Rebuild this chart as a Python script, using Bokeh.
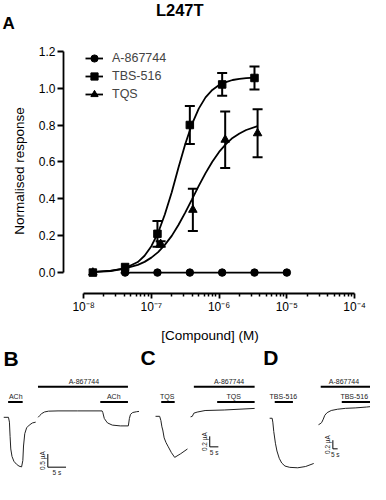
import math
from bokeh.plotting import figure
from bokeh.models import (ColumnDataSource, Range1d, Whisker, TeeHead, Legend, LegendItem,
                          FixedTicker, CustomJSTickFormatter, PrintfTickFormatter)
from bokeh.layouts import column, row
from bokeh.embed import file_html
from bokeh.resources import INLINE
from bokeh.core.properties import value

S = 0.958
FONT = "Liberation Sans"

# ---------------- panel A data ----------------
title_text = "L247T"
a867744_conc = [4.1e-8, 1.23e-7, 3.7e-7, 1.11e-6, 3.33e-6, 1.0e-5]
a867744_resp = [0.0, 0.0, 0.0, 0.0, 0.0, 0.0]

tbs_conc = [1.37e-8, 4.1e-8, 1.23e-7, 3.7e-7, 1.11e-6, 3.33e-6]
tbs_resp = [0.0, 0.03, 0.21, 0.80, 1.02, 1.055]
tbs_err = [0.0, 0.0, 0.07, 0.103, 0.062, 0.062]

tqs_conc = [1.37e-8, 4.1e-8, 1.37e-7, 4.1e-7, 1.23e-6, 3.7e-6]
tqs_resp = [0.0, 0.01, 0.155, 0.34, 0.72, 0.755]
tqs_err = [0.0, 0.0, 0.015, 0.115, 0.153, 0.13]

tbs_fit_conc = [1.37e-8, 2.51e-8, 3.98e-8, 6.31e-8, 7.94e-8, 1.0e-7, 1.26e-7, 1.58e-7, 2.0e-7,
                2.51e-7, 3.16e-7, 3.98e-7, 5.01e-7, 6.31e-7, 7.94e-7, 1.0e-6, 1.26e-6, 1.58e-6,
                2.0e-6, 2.51e-6, 3.39e-6]
tbs_fit_resp = [0.002, 0.008, 0.022, 0.057, 0.091, 0.143, 0.216, 0.315, 0.436, 0.568, 0.696,
                0.805, 0.889, 0.950, 0.990, 1.017, 1.033, 1.044, 1.050, 1.054, 1.057]
tqs_fit_conc = [1.37e-8, 2.51e-8, 3.98e-8, 6.31e-8, 7.94e-8, 1.0e-7, 1.26e-7, 1.58e-7, 2.0e-7,
                2.51e-7, 3.16e-7, 3.98e-7, 5.01e-7, 6.31e-7, 7.94e-7, 1.0e-6, 1.26e-6, 1.58e-6,
                2.0e-6, 2.51e-6, 3.7e-6]
tqs_fit_resp = [0.004, 0.010, 0.021, 0.042, 0.058, 0.081, 0.111, 0.150, 0.199, 0.258, 0.325,
                0.397, 0.470, 0.539, 0.601, 0.654, 0.696, 0.730, 0.754, 0.773, 0.794]

x_tick_exponents = [-8, -7, -6, -5, -4]
x_tick_labels = ["10⁻⁸", "10⁻⁷", "10⁻⁶", "10⁻⁵", "10⁻⁴"]
y_ticks = [0.0, 0.2, 0.4, 0.6, 0.8, 1.0, 1.2]

series_names = ["A-867744", "TBS-516", "TQS"]

# ---------------- panels B, C, D data (time s, current uA) ----------------
b_t1 = [0.1, 1.4, 1.66, 1.84, 2.03, 2.37, 2.89, 3.6, 4.29, 5.0, 5.34, 5.53, 5.87, 6.39, 7.1, 7.97, 8.87]
b_i1 = [0.0, 0.0, -0.18, -0.71, -1.18, -1.46, -1.64, -1.75, -1.82, -1.85, -1.61, -1.07, -0.61,
        -0.39, -0.29, -0.21, -0.18]
b_t2 = [9.55, 10.0, 10.53, 11.3, 12.4, 15.0, 20.3, 27.1, 27.3, 27.7, 28.2, 28.6, 29.9, 32.1,
        34.3, 34.6, 34.9, 35.5, 36.6, 37.8]
b_i2 = [0.0, 0.07, 0.14, 0.2, 0.23, 0.24, 0.24, 0.24, 0.18, -0.04, -0.14, -0.21, -0.29, -0.32,
        -0.32, -0.04, 0.11, 0.18, 0.21, 0.23]
b_bar_names = ["A-867744", "ACh", "ACh"]
b_bar_start = [9.5, 1.3, 26.6]
b_bar_end = [34.2, 5.3, 34.2]
b_bar_level = [1.14, 0.57, 0.57]
b_label_x = [22.1, 3.4, 30.3]

c_t1 = [0.0, 2.4, 3.1, 3.7, 4.2, 5.0, 6.1, 7.4, 9.2, 11.1, 14.6, 18.5]
c_i1 = [0.0, 0.0, -0.08, -0.2, -0.26, -0.41, -0.5, -0.58, -0.69, -0.78, -0.71, -0.62]
c_t2 = [20.3, 21.3, 22.2, 24.1, 28.7, 39.8, 57.4]
c_i2 = [-0.01, 0.0, 0.06, 0.08, 0.11, 0.12, 0.15]
c_bar_names = ["A-867744", "TQS", "TQS"]
c_bar_start = [22.2, 3.3, 35.7]
c_bar_end = [57.4, 11.1, 57.4]
c_bar_level = [0.56, 0.27, 0.27]
c_label_x = [42.6, 6.8, 45.3]

d_t1 = [0.0, 2.6, 3.3, 4.3, 6.0, 7.6, 10.0, 12.6, 16.0, 21.0, 29.3, 37.6, 46.0]
d_i1 = [0.0, 0.0, -0.09, -0.31, -0.58, -0.76, -0.93, -1.04, -1.11, -1.14, -1.15, -1.12, -1.05]
d_t2 = [51.0, 52.6, 54.3, 56.0, 57.6, 60.0, 64.3, 71.0, 79.3, 89.3, 101.0, 105.3]
d_i2 = [-0.15, -0.13, -0.10, -0.02, 0.07, 0.13, 0.18, 0.21, 0.23, 0.24, 0.26, 0.27]
d_bar_names = ["A-867744", "TBS-516", "TBS-516"]
d_bar_start = [53.3, 5.3, 75.3]
d_bar_end = [105.3, 24.3, 105.3]
d_bar_level = [0.73, 0.38, 0.38]
d_label_x = [77.6, 14.3, 88.3]

# scale bars
b_scale = dict(x=12.2, top=-1.37, bottom=-1.86, x_end=17.2, ilabel="0.5 µA", tlabel="5 s")
c_scale = dict(x=31.4, top=-0.38, bottom=-0.58, x_end=36.4, ilabel="0.2 µA", tlabel="5 s")
d_scale = dict(x=66.0, top=-0.51, bottom=-0.71, x_end=71.0, ilabel="0.2 µA", tlabel="5 s")

# ---------------- header (title + panel letter A) ----------------
head = figure(width=370, height=38, x_range=Range1d(0, 386), y_range=Range1d(0, 40),
              x_axis_location=None, y_axis_location=None, min_border=0,
              toolbar_location=None, output_backend="svg")
head.outline_line_color = None
head.grid.visible = False
head.text(x=[187], y=[30], text=[title_text], text_align="center", text_baseline="middle",
          text_font=value(FONT), text_font_style="bold", text_font_size="16.5px",
          text_color="black")
head.text(x=[2], y=[16], text=["A"], text_align="left", text_baseline="middle",
          text_font=value(FONT), text_font_style="bold", text_font_size="17px",
          text_color="black")

# ---------------- panel A figure ----------------
p = figure(width=370, height=307, x_axis_type="log",
           x_range=Range1d(10 ** -8.2968, 10 ** -3.9717), y_range=Range1d(-0.1135, 1.2148),
           output_backend="svg", toolbar_location=None,
           min_border_left=63, min_border_right=14, min_border_top=10, min_border_bottom=47)
p.outline_line_color = None
p.xgrid.visible = False
p.ygrid.visible = False

LW = 1.8
r_tbs_fit = p.line(tbs_fit_conc, tbs_fit_resp, line_color="black", line_width=LW)
r_tqs_fit = p.line(tqs_fit_conc, tqs_fit_resp, line_color="black", line_width=LW)
r_a_line = p.line(a867744_conc, a867744_resp, line_color="black", line_width=LW)

for conc, resp, err in [(tbs_conc, tbs_resp, tbs_err), (tqs_conc, tqs_resp, tqs_err)]:
    src = ColumnDataSource(dict(x=[c for c, e in zip(conc, err) if e > 0],
                                upper=[r + e for r, e in zip(resp, err) if e > 0],
                                lower=[r - e for r, e in zip(resp, err) if e > 0]))
    w = Whisker(base="x", upper="upper", lower="lower", source=src, line_width=2,
                line_color="black",
                upper_head=TeeHead(size=10, line_width=2, line_color="black"),
                lower_head=TeeHead(size=10, line_width=2, line_color="black"))
    p.add_layout(w)

r_tqs = p.scatter(tqs_conc, tqs_resp, marker="triangle", size=8.5, color="black")
r_a = p.scatter(a867744_conc, a867744_resp, marker="circle", size=7.5, color="black")
r_tbs = p.scatter(tbs_conc, tbs_resp, marker="square", size=7.5, color="black")

legend = Legend(items=[LegendItem(label=series_names[0], renderers=[r_a_line, r_a]),
                       LegendItem(label=series_names[1], renderers=[r_tbs_fit, r_tbs]),
                       LegendItem(label=series_names[2], renderers=[r_tqs_fit, r_tqs])],
                location=(22, 190), glyph_width=18, glyph_height=18, label_height=18,
                spacing=0, padding=0, margin=0, label_standoff=9,
                label_text_font=FONT, label_text_font_size="12.5px",
                border_line_color=None, background_fill_alpha=0)
p.add_layout(legend, "center")

# axes
p.xaxis.bounds = (10.0 ** x_tick_exponents[0], 10.0 ** x_tick_exponents[-1])
minor = [k * 10.0 ** e for e in x_tick_exponents[:-1] for k in range(2, 10)]
p.xaxis.ticker = FixedTicker(ticks=[10.0 ** e for e in x_tick_exponents], minor_ticks=minor)
p.xaxis.formatter = CustomJSTickFormatter(
    args=dict(labels=dict(zip([str(e) for e in x_tick_exponents], x_tick_labels))),
    code="return labels[String(Math.round(Math.log10(tick)))];")
p.xaxis.axis_label = "[Compound] (M)"
p.xaxis.major_tick_out = 5
p.xaxis.major_tick_in = 0
p.xaxis.minor_tick_out = 3
p.xaxis.minor_tick_in = 0
p.xaxis.major_label_standoff = 1
p.xaxis.axis_label_standoff = 11

p.yaxis.bounds = (y_ticks[0], y_ticks[-1])
p.yaxis.ticker = FixedTicker(ticks=y_ticks, minor_ticks=[])
p.yaxis.formatter = PrintfTickFormatter(format="%.1f")
p.yaxis.axis_label = "Normalised response"
p.yaxis.major_tick_out = 6
p.yaxis.major_tick_in = 0
p.yaxis.major_label_standoff = 2
p.yaxis.axis_label_standoff = 9

for ax in (p.xaxis, p.yaxis):
    ax.axis_line_width = 1.8
    ax.major_tick_line_width = 1.8
    ax.minor_tick_line_width = 1.5
    ax.axis_line_color = "black"
    ax.major_tick_line_color = "black"
    ax.minor_tick_line_color = "black"
    ax.major_label_text_font = FONT
    ax.major_label_text_font_size = "12px"
    ax.major_label_text_color = "black"
    ax.axis_label_text_font = FONT
    ax.axis_label_text_font_size = "13.5px"
    ax.axis_label_text_font_style = "normal"
    ax.axis_label_text_color = "black"


# ---------------- trace panels ----------------
def trace_panel(width, xr, yr, letter, letter_xy, segs, names, starts, ends, levels, label_x, sc):
    f = figure(width=width, height=134, x_range=Range1d(*xr), y_range=Range1d(*yr),
               x_axis_location=None, y_axis_location=None, min_border=0,
               toolbar_location=None, output_backend="svg")
    f.outline_line_color = None
    f.grid.visible = False
    for t, i in segs:
        f.line(t, i, line_color="#222222", line_width=1)
    f.segment(x0=starts, y0=levels, x1=ends, y1=levels, line_color="black", line_width=2)
    f.text(x=label_x, y=levels, text=names, text_align="center", text_baseline="middle",
           y_offset=-5.5, text_font=value(FONT), text_font_size="7px", text_color="#222222")
    f.line([sc["x"], sc["x"], sc["x_end"]], [sc["top"], sc["bottom"], sc["bottom"]],
           line_color="black", line_width=1)
    f.text(x=[sc["x"]], y=[(sc["top"] + sc["bottom"]) / 2], text=[sc["ilabel"]], angle=math.pi / 2,
           text_align="center", text_baseline="bottom", x_offset=-2,
           text_font=value(FONT), text_font_size="6.5px", text_color="#222222")
    f.text(x=[(sc["x"] + sc["x_end"]) / 2], y=[sc["bottom"]], text=[sc["tlabel"]],
           text_align="center", text_baseline="top", y_offset=2,
           text_font=value(FONT), text_font_size="6.5px", text_color="#222222")
    f.text(x=[letter_xy[0]], y=[letter_xy[1]], text=[letter], text_align="left",
           text_baseline="middle", text_font=value(FONT), text_font_style="bold",
           text_font_size="21px", text_color="black")
    return f


pB = trace_panel(139, (-0.79, 37.37), (-2.32, 2.68), "B", (0.0, 2.21),
                 [(b_t1, b_i1), (b_t2, b_i2)], b_bar_names, b_bar_start, b_bar_end,
                 b_bar_level, b_label_x, b_scale)
pC = trace_panel(118, (-9.28, 59.06), (-1.2, 1.345), "C", (-8.72, 1.109),
                 [(c_t1, c_i1), (c_t2, c_i2)], c_bar_names, c_bar_start, c_bar_end,
                 c_bar_level, c_label_x, c_scale)
pD = trace_panel(113, (-12.7, 105.3), (-1.422, 1.689), "D", (-6.7, 1.4),
                 [(d_t1, d_i1), (d_t2, d_i2)], d_bar_names, d_bar_start, d_bar_end,
                 d_bar_level, d_label_x, d_scale)

layout = column(row(head, spacing=0), p, row(pB, pC, pD, spacing=0), spacing=0)

with open("out.html", "w") as fh:
    fh.write(file_html(layout, INLINE))
